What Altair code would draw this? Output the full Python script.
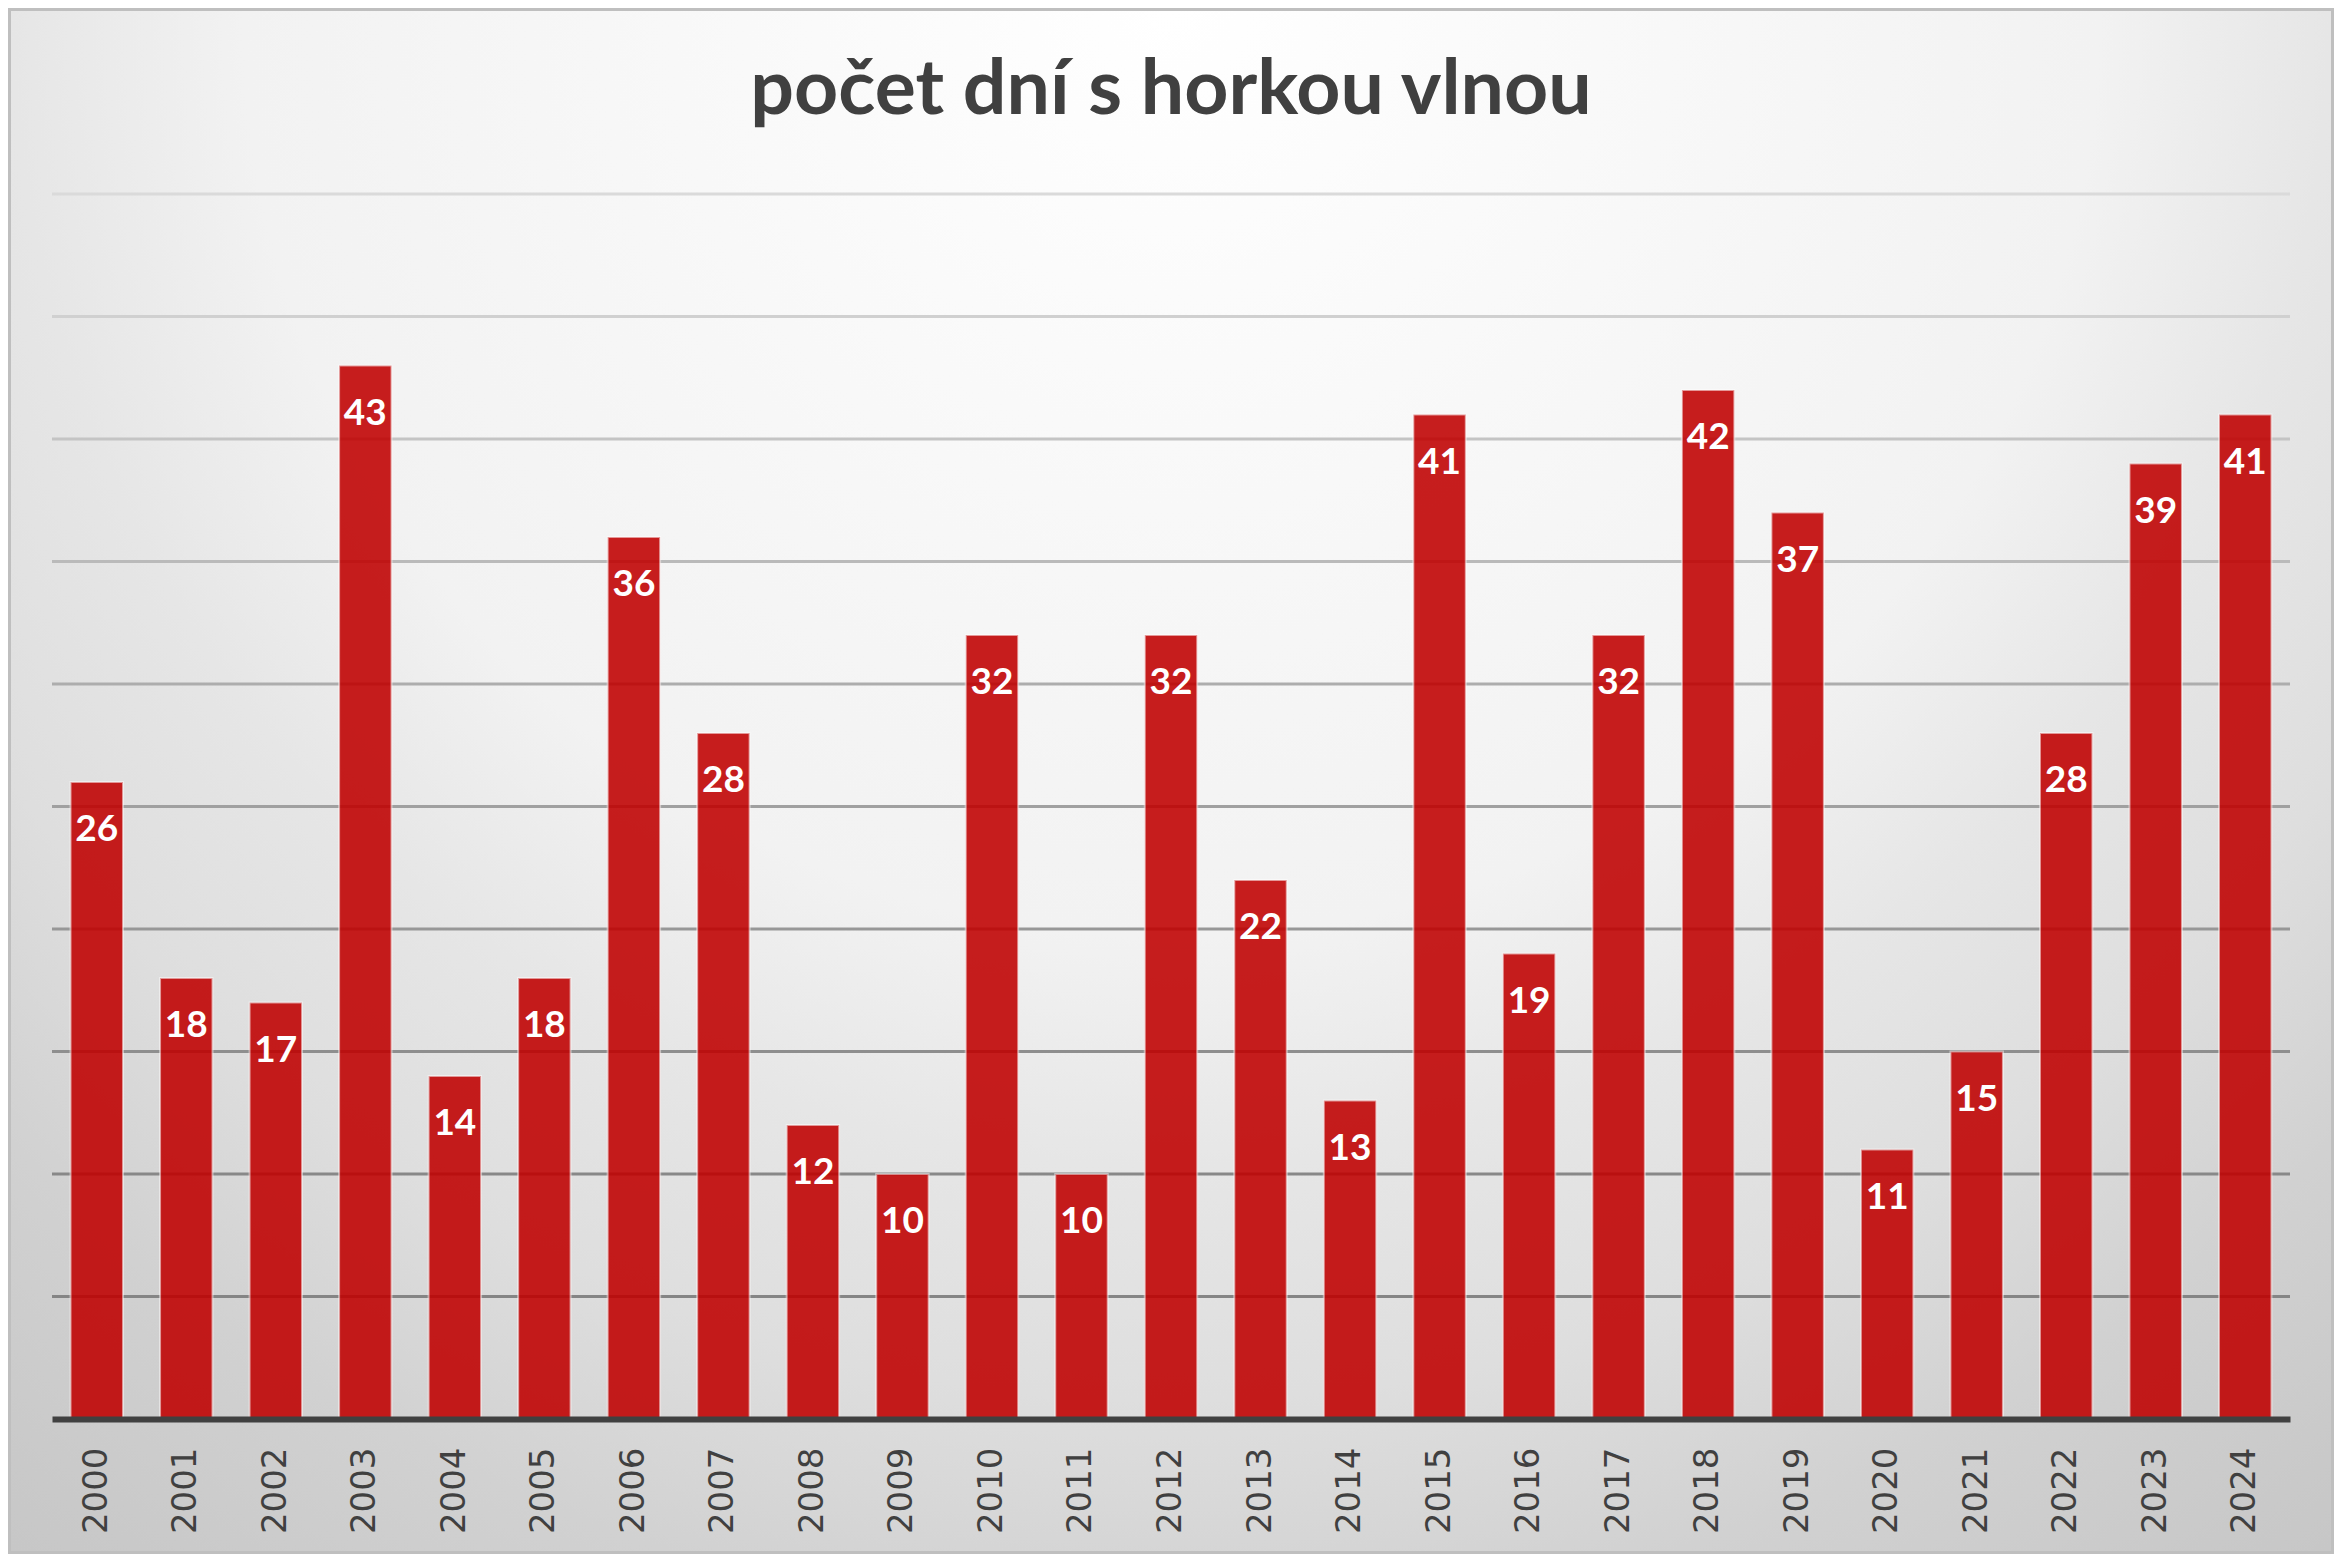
import altair as alt
import pandas as pd

TITLE = "počet dní s horkou vlnou"
years = [str(y) for y in range(2000, 2025)]
days = [26, 18, 17, 43, 14, 18, 36, 28, 12, 10, 32, 10, 32, 22, 13,
        41, 19, 32, 42, 37, 11, 15, 28, 39, 41]
grid_values = [5, 10, 15, 20, 25, 30, 35, 40, 45, 50]
grid_colors = ["#858585", "#888888", "#8E8E8E", "#979797", "#A0A0A0",
               "#ADADAD", "#BABABA", "#C4C4C4", "#D0D0D0", "#DADADA"]

W, H = 2238, 1225
PL, PT, PR, PB = 44, 186, 44, 135

df = pd.DataFrame({"year": years, "days": days})
gdf = pd.DataFrame({"g": grid_values})

yscale = alt.Scale(domain=[0, 50], nice=False, zero=True)
xscale = alt.Scale(paddingInner=0.414, paddingOuter=0.207)

xaxis = alt.Axis(title=None, labelAngle=-90, labelFont="DejaVu Sans",
                 labelFontSize=34, labelColor="#404040", ticks=False,
                 tickSize=0, labelPadding=28, domainColor="#404040",
                 domainWidth=6, grid=False, zindex=1)

gradient = {
    "gradient": "radial",
    "x1": 0.5, "y1": 0.0, "r1": 0.0,
    "x2": 0.5, "y2": 0.0, "r2": 0.625,
    "stops": [
        {"offset": 0.0, "color": "#FFFFFF"},
        {"offset": 0.4, "color": "#F2F2F2"},
        {"offset": 0.5, "color": "#E6E6E6"},
        {"offset": 0.6, "color": "#DEDEDE"},
        {"offset": 0.7, "color": "#D1D1D1"},
        {"offset": 0.8, "color": "#C9C9C9"},
        {"offset": 0.88, "color": "#C4C4C4"},
        {"offset": 1.0, "color": "#BCBCBC"},
    ],
}

one = alt.Data(values=[{"t": TITLE}])

bg = alt.Chart(one).mark_rect(color=gradient).encode(
    x=alt.value(-PL), x2=alt.value(W + PR),
    y=alt.value(-PT), y2=alt.value(-PT + 3710),
)

grid = alt.Chart(gdf).mark_rule(strokeWidth=3).encode(
    y=alt.Y("g:Q", scale=yscale, axis=None),
    x=alt.value(0), x2=alt.value(W),
    color=alt.Color("g:Q", scale=alt.Scale(domain=grid_values, range=grid_colors),
                    legend=None),
)

bars = alt.Chart(df).mark_bar(color="#C00000", opacity=0.88, stroke="#FFFFFF",
                              strokeOpacity=0.55, strokeWidth=2).encode(
    x=alt.X("year:N", scale=xscale, axis=xaxis, sort=None),
    y=alt.Y("days:Q", scale=yscale, axis=None),
)

labels = alt.Chart(df).mark_text(font="Lato", fontWeight="bold", fontSize=37,
                                 color="#FFFFFF", baseline="alphabetic",
                                 align="center", dy=59).encode(
    x=alt.X("year:N", scale=xscale, axis=xaxis, sort=None),
    y=alt.Y("days:Q", scale=yscale, axis=None),
    text="days:Q",
)

title = alt.Chart(one).mark_text(font="Lato", fontWeight="bold", fontSize=77,
                                 color="#404040", baseline="alphabetic",
                                 align="center").encode(
    x=alt.value(W / 2), y=alt.value(-80), text="t:N",
)

border = alt.Chart(one).mark_rect(fillOpacity=0, stroke="#BFBFBF", strokeWidth=6).encode(
    x=alt.value(-PL), x2=alt.value(W + PR),
    y=alt.value(-PT), y2=alt.value(H + PB),
)

chart = alt.layer(bg, grid, bars, labels, title, border).properties(
    width=W, height=H,
    autosize=alt.AutoSizeParams(type="none"),
    padding={"left": PL, "top": PT, "right": PR, "bottom": PB},
    background="#FFFFFF",
).configure_view(strokeWidth=0)

chart.save("out.html", embed_options={"renderer": "svg", "actions": False})
